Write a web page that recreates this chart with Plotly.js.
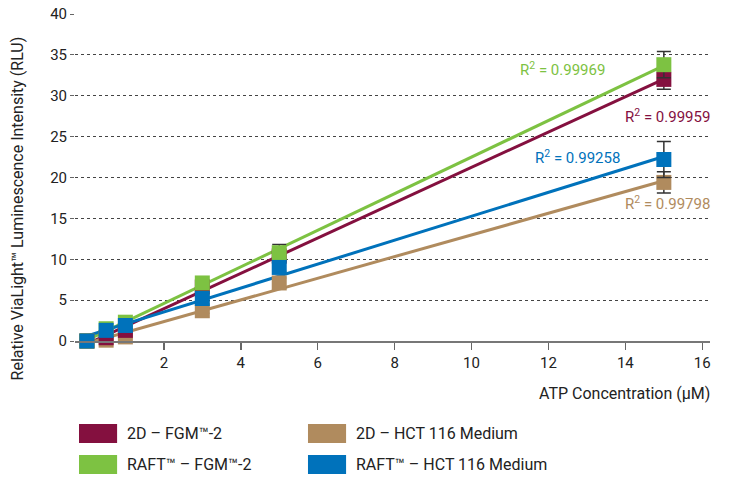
<!DOCTYPE html>
<html>
<head>
<meta charset="utf-8">
<script src="https://cdn.plot.ly/plotly-3.0.1.min.js"></script>
<style>html,body{margin:0;padding:0;background:#fff;}#chart{width:729px;height:477px;}</style>
</head>
<body>
<div id="chart"></div>
<script>
// ATP concentrations (µM)
const atp = [0, 0.5, 1, 3, 5, 15];

// Series values (RLU) and error bars
const names = ["2D \u2013 FGM\u2122-2", "2D \u2013 HCT 116 Medium", "RAFT\u2122 \u2013 FGM\u2122-2", "RAFT\u2122 \u2013 HCT 116 Medium"];
const colors = ["#84103f", "#b08b5e", "#7dc242", "#0072bb"];
const d2FGM = [0, 0.4, 1.3, 6.6, 10.4, 32.0];
const d2FGMerr = [0, 0.2, 0.3, 0.4, 0.6, 1.2];
const d2HCT = [0, 0.1, 0.5, 3.7, 7.1, 19.4];
const d2HCTerr = [0, 0.1, 0.2, 0.3, 0.6, 1.3];
const raftFGM = [0, 1.5, 2.3, 7.1, 10.8, 33.8];
const raftFGMerr = [0, 0.2, 0.3, 0.4, 1.0, 1.6];
const raftHCT = [0, 1.3, 1.9, 5.2, 9.0, 22.2];
const raftHCTerr = [0, 0.2, 0.4, 0.3, 0.5, 2.2];
const r2Labels = ["0.99959", "0.99798", "0.99969", "0.99258"];

const series = [d2FGM, d2HCT, raftFGM, raftHCT];
const errs = [d2FGMerr, d2HCTerr, raftFGMerr, raftHCTerr];

function fit(x, y) {
  const n = x.length;
  const mx = x.reduce((a, b) => a + b, 0) / n;
  const my = y.reduce((a, b) => a + b, 0) / n;
  let sxy = 0, sxx = 0;
  for (let i = 0; i < n; i++) { sxy += (x[i] - mx) * (y[i] - my); sxx += (x[i] - mx) ** 2; }
  const m = sxy / sxx;
  return { m: m, b: my - m * mx };
}

const traces = [];
// trendlines first (under markers)
series.forEach((s, i) => {
  const f = fit(atp, s);
  const x0 = atp[0], x1 = atp[atp.length - 1];
  traces.push({
    x: [x0, x1], y: [f.m * x0 + f.b, f.m * x1 + f.b],
    mode: "lines", line: { color: colors[i], width: 3 },
    showlegend: false, hoverinfo: "skip", cliponaxis: false
  });
});
// markers in drawing order: tan, maroon, green, blue
[1, 0, 2, 3].forEach(i => {
  traces.push({
    x: atp, y: series[i], name: names[i],
    mode: "markers", type: "scatter",
    marker: { symbol: "square", size: 15, color: colors[i] },
    error_y: { type: "data", array: errs[i], visible: true, color: "#333", thickness: 1.5, width: 7 },
    showlegend: false, cliponaxis: false
  });
});

const font = "Roboto, 'DejaVu Sans', sans-serif";
const annotations = [
  { x: 12.36, y: 33.3, xref: "x", yref: "y", text: "R<sup>2</sup> = " + r2Labels[2], showarrow: false, font: { color: colors[2], size: 15, family: font }, xanchor: "center", yanchor: "middle" },
  { x: 1.003, y: 27.5, xref: "paper", yref: "y", text: "R<sup>2</sup> = " + r2Labels[0], showarrow: false, font: { color: colors[0], size: 15, family: font }, xanchor: "right", yanchor: "middle" },
  { x: 12.75, y: 22.5, xref: "x", yref: "y", text: "R<sup>2</sup> = " + r2Labels[3], showarrow: false, font: { color: colors[3], size: 15, family: font }, xanchor: "center", yanchor: "middle" },
  { x: 1.003, y: 16.9, xref: "paper", yref: "y", text: "R<sup>2</sup> = " + r2Labels[1], showarrow: false, font: { color: colors[1], size: 15, family: font }, xanchor: "right", yanchor: "middle" },
  { x: -0.09, y: 0.405, xref: "paper", yref: "paper", text: "Relative ViaLight\u2122 Luminescence Intensity (RLU)", textangle: -90, showarrow: false, font: { color: "#222", size: 16, family: font }, xanchor: "center", yanchor: "middle" },
  { x: 1.003, y: -0.162, xref: "paper", yref: "paper", text: "ATP Concentration (\u00b5M)", showarrow: false, font: { color: "#222", size: 16, family: font }, xanchor: "right", yanchor: "middle" }
];
const shapes = [];
const legPos = [
  { i: 0, x0: 0.0063, y: -0.2538 },
  { i: 1, x0: 0.3669, y: -0.2538 },
  { i: 2, x0: 0.0063, y: -0.3486 },
  { i: 3, x0: 0.3669, y: -0.3486 }
];
legPos.forEach(p => {
  shapes.push({ type: "rect", xref: "paper", yref: "paper", x0: p.x0, x1: p.x0 + 0.06, y0: p.y, y1: p.y - 0.058, fillcolor: colors[p.i], line: { width: 0 } });
  annotations.push({ x: p.x0 + 0.0724, y: p.y - 0.029, xref: "paper", yref: "paper", text: names[p.i], showarrow: false, xanchor: "left", yanchor: "middle", font: { color: "#222", size: 16, family: font } });
});

const layout = {
  width: 729, height: 477,
  margin: { l: 75, r: 19, t: 14, b: 136 },
  paper_bgcolor: "#fff", plot_bgcolor: "#fff",
  font: { family: font, color: "#222", size: 15 },
  showlegend: false,
  xaxis: {
    range: [-0.31, 16.2], tickvals: [2, 4, 6, 8, 10, 12, 14, 16],
    showgrid: false, zeroline: false,
    showline: true, linecolor: "#777", linewidth: 1.5,
    ticks: "outside", ticklen: 7, tickwidth: 1.5, tickcolor: "#666",
    tickfont: { size: 15, color: "#222" }
  },
  yaxis: {
    range: [0, 40], tickvals: [0, 5, 10, 15, 20, 25, 30, 35, 40],
    showgrid: true, gridcolor: "#444", griddash: "3px,3px", gridwidth: 1,
    zeroline: false, showline: false,
    ticks: "outside", ticklen: 4, tickwidth: 1, tickcolor: "#666",
    tickfont: { size: 15, color: "#222" }
  },
  annotations: annotations,
  shapes: shapes
};

Plotly.newPlot("chart", traces, layout, { staticPlot: true, displayModeBar: false });
</script>
</body>
</html>
